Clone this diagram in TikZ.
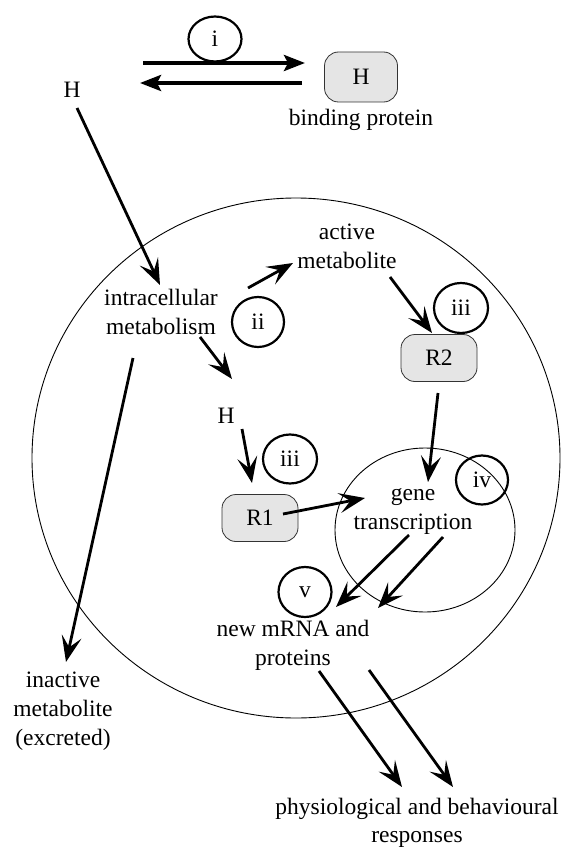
\documentclass[tikz,border=0pt]{standalone}
\usepackage{fontspec}
\setmainfont{Liberation Serif}
\usetikzlibrary{shapes.geometric,arrows.meta}
\begin{document}
\begin{tikzpicture}[x=1pt,y=-1pt,
  every node/.style={font=\fontsize{23.5}{29}\selectfont},
  lab/.style={ellipse,draw,line width=2.2pt,minimum width=53pt,minimum height=49pt,inner sep=0pt},
  rbox/.style={draw=black!80,line width=0.8pt,rounded corners=14pt,fill=black!10,minimum width=76pt,minimum height=47pt,inner sep=0pt},
  one/.style={inner sep=0pt,anchor=base},
  ml/.style={align=center,inner sep=0pt,anchor=north},
  arr/.style={line width=2.8pt,-{Stealth[length=26pt,width=20pt,inset=11pt]}},
  bigarr/.style={line width=3.8pt,-{Stealth[length=21pt,width=16pt,inset=4pt]}},
  memb/.style={draw,line width=0.9pt,ellipse,inner sep=0pt}]
\useasboundingbox (0,0) rectangle (568,848);
% membranes
\node[memb,minimum width=528pt,minimum height=520pt] (cell) at (296,458) {};
\node[memb,minimum width=180pt,minimum height=164pt] (nucleus) at (425,530) {};
% top: binding protein equilibrium
\node[lab,minimum height=45pt] (ci) at (215,39) {i};
\coordinate (t1s) at (143,63); \coordinate (t1e) at (305,63);
\coordinate (t2s) at (302,83); \coordinate (t2e) at (140,83);
\draw[bigarr] (t1s) -- (t1e);
\draw[bigarr] (t2s) -- (t2e);
\node[rbox,minimum width=73pt,minimum height=50pt] (hbox) at (361,77) {H};
\node[one] (bp) at (361,125) {binding protein};
\node[one] (hout) at (72,98) {H};
% texts
\node[ml] (intra) at (161,284.7) {\strut intracellular\\metabolism};
\node[ml] (active) at (347,218.7) {\strut active\\metabolite};
\node[one] (hin) at (226,423) {H};
\node[ml] (gene) at (413,479.7) {\strut gene\\transcription};
\node[ml] (newm) at (293,615.7) {\strut new mRNA and\\proteins};
\node[ml] (inact) at (63,666.7) {\strut inactive\\metabolite\\(excreted)};
\node[ml] (phys) at (417,793.7) {\strut physiological and behavioural\\[-1pt]responses};
% labels
\node[lab,minimum width=52pt,minimum height=50pt] (cii) at (258,322) {ii};
\node[lab,minimum width=54pt,minimum height=50pt] (ciiia) at (461,308) {iii};
\node[lab,minimum width=54pt,minimum height=49pt] (ciiib) at (290,459) {iii};
\node[lab,minimum width=52pt,minimum height=49pt] (civ) at (482,480) {iv};
\node[lab,minimum width=53pt,minimum height=50pt] (cv) at (305,592) {v};
% receptors
\node[rbox] (r2) at (439,358) {R2};
\node[rbox] (r1) at (260,518) {R1};
% arrow end points
\coordinate (a1s) at (77,108);  \coordinate (a1e) at (160,285);
\coordinate (a2s) at (133,358); \coordinate (a2e) at (66,662);
\coordinate (a3s) at (248,288); \coordinate (a3e) at (293,263);
\coordinate (a4s) at (200,337); \coordinate (a4e) at (232,379);
\coordinate (a5s) at (390,277); \coordinate (a5e) at (432,333);
\coordinate (a6s) at (438,393); \coordinate (a6e) at (428,482);
\coordinate (a7s) at (242,429); \coordinate (a7e) at (252,483);
\coordinate (a8s) at (283,514); \coordinate (a8e) at (365,498);
\coordinate (a9s) at (409,535); \coordinate (a9e) at (336,607);
\coordinate (a10s) at (443,537); \coordinate (a10e) at (378,608);
\coordinate (a11s) at (319,671); \coordinate (a11e) at (402,787);
\coordinate (a12s) at (369,670); \coordinate (a12e) at (453,787);
\foreach \a in {1,...,12} {\draw[arr] (a\a s) -- (a\a e);}
\end{tikzpicture}
\end{document}
